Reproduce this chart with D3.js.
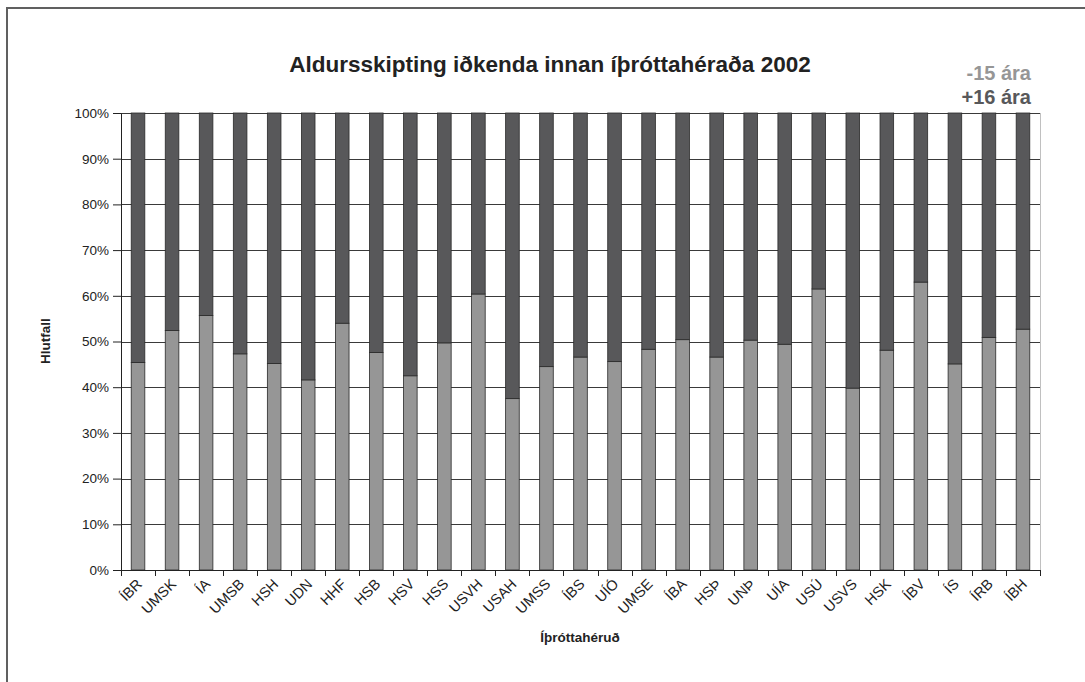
<!DOCTYPE html>
<html>
<head>
<meta charset="utf-8">
<script src="https://cdn.jsdelivr.net/npm/d3@7"></script>
<style>
  body { margin: 0; background: #fff; }
  svg { display: block; font-family: "Liberation Sans", Arial, sans-serif; }
</style>
</head>
<body>
<div id="chart"></div>
<script>
// categories (íþróttahéruð)
const regions = ["ÍBR", "UMSK", "ÍA", "UMSB", "HSH", "UDN", "HHF", "HSB", "HSV", "HSS",
  "USVH", "USAH", "UMSS", "ÍBS", "UÍÓ", "UMSE", "ÍBA", "HSÞ", "UNÞ", "UÍA",
  "USÚ", "USVS", "HSK", "ÍBV", "ÍS", "ÍRB", "ÍBH"];

// share of -15 ára, percent (rest is +16 ára)
const under15 = [45.4, 52.4, 55.7, 47.3, 45.2, 41.6, 54.0, 47.6, 42.5, 49.7,
  60.4, 37.5, 44.5, 46.6, 45.6, 48.3, 50.4, 46.6, 50.3, 49.4,
  61.5, 39.8, 48.1, 63.0, 45.1, 50.9, 52.7];
const over16 = under15.map(v => 100 - v);

const yTicks = [0, 10, 20, 30, 40, 50, 60, 70, 80, 90, 100];
const seriesNames = ["-15 ára", "+16 ára"];
const colors = ["#969696", "#58585a"];

const W = 1085, H = 682;
const margin = { top: 113, right: 45, bottom: 112, left: 121 };
const width = W - margin.left - margin.right;
const height = H - margin.top - margin.bottom;

const svg = d3.select("#chart").append("svg")
  .attr("width", W)
  .attr("height", H);

// outer frame
svg.append("rect")
  .attr("x", 7).attr("y", 8)
  .attr("width", W + 20).attr("height", H + 20)
  .attr("fill", "none")
  .attr("stroke", "#606060")
  .attr("stroke-width", 2);

const g = svg.append("g")
  .attr("transform", `translate(${margin.left},${margin.top})`);

const x = d3.scaleBand()
  .domain(regions)
  .range([0, width])
  .paddingInner(0.6)
  .paddingOuter(0.3);

const y = d3.scaleLinear()
  .domain([0, 100])
  .range([height, 0]);

// horizontal gridlines
g.append("g")
  .selectAll("line")
  .data(yTicks.filter(t => t > 0))
  .join("line")
  .attr("x1", 0).attr("x2", width)
  .attr("y1", d => Math.round(y(d)) + 0.5)
  .attr("y2", d => Math.round(y(d)) + 0.5)
  .attr("stroke", "#3a3a3a")
  .attr("stroke-width", 1);

// right border of plot area
g.append("line")
  .attr("x1", width + 0.5).attr("x2", width + 0.5)
  .attr("y1", 0).attr("y2", height)
  .attr("stroke", "#c0c0c0");

// stacked data
const table = regions.map((r, i) => ({ region: r, "-15 ára": under15[i], "+16 ára": over16[i] }));
const stacked = d3.stack().keys(seriesNames)(table);

g.append("g")
  .selectAll("g")
  .data(stacked)
  .join("g")
  .attr("fill", (d, i) => colors[i])
  .selectAll("rect")
  .data(d => d)
  .join("rect")
  .attr("x", d => x(d.data.region))
  .attr("y", d => y(d[1]))
  .attr("width", x.bandwidth())
  .attr("height", d => y(d[0]) - y(d[1]))
  .attr("stroke", "#2a2a2a")
  .attr("stroke-width", 0.8);

// y axis
const yAxis = g.append("g")
  .call(d3.axisLeft(y).tickValues(yTicks).tickFormat(d => d + "%").tickSize(8).tickSizeOuter(0));
yAxis.select(".domain").attr("stroke", "#222");
yAxis.selectAll(".tick line").attr("stroke", "#222");
yAxis.selectAll("text")
  .attr("x", -12)
  .attr("font-size", 13.5)
  .attr("font-family", "Liberation Sans, Arial, sans-serif")
  .attr("fill", "#222");

// x axis: ticks between categories
const xAxis = g.append("g").attr("transform", `translate(0,${height})`);
xAxis.append("line")
  .attr("x1", 0).attr("x2", width)
  .attr("y1", 0.5).attr("y2", 0.5)
  .attr("stroke", "#222");
xAxis.selectAll(".sep")
  .data(d3.range(regions.length + 1))
  .join("line")
  .attr("class", "sep")
  .attr("x1", i => Math.round(i * width / regions.length) + 0.5)
  .attr("x2", i => Math.round(i * width / regions.length) + 0.5)
  .attr("y1", 0).attr("y2", 6)
  .attr("stroke", "#222");

xAxis.selectAll(".lbl")
  .data(regions)
  .join("text")
  .attr("class", "lbl")
  .attr("text-anchor", "end")
  .attr("font-size", 14.5)
  .attr("fill", "#222")
  .attr("transform", d => `translate(${x(d) + x.bandwidth() / 2 + 5},${15}) rotate(-45)`)
  .text(d => d);

// axis titles
svg.append("text")
  .attr("x", 580).attr("y", 642)
  .attr("text-anchor", "middle")
  .attr("font-size", 13.5)
  .attr("font-weight", "bold")
  .attr("fill", "#222")
  .text("Íþróttahéruð");

svg.append("text")
  .attr("transform", "translate(50,341) rotate(-90)")
  .attr("text-anchor", "middle")
  .attr("font-size", 13.5)
  .attr("font-weight", "bold")
  .attr("fill", "#222")
  .text("Hlutfall");

// title
svg.append("text")
  .attr("x", 550).attr("y", 72)
  .attr("text-anchor", "middle")
  .attr("font-size", 22.5)
  .attr("font-weight", "bold")
  .attr("fill", "#222")
  .text("Aldursskipting iðkenda innan íþróttahéraða 2002");

// legend
svg.append("g")
  .selectAll("text")
  .data(seriesNames)
  .join("text")
  .attr("x", 1031)
  .attr("y", (d, i) => 80 + i * 24)
  .attr("text-anchor", "end")
  .attr("font-size", 20)
  .attr("font-weight", "bold")
  .attr("fill", (d, i) => colors[i])
  .text(d => d);
</script>
</body>
</html>
